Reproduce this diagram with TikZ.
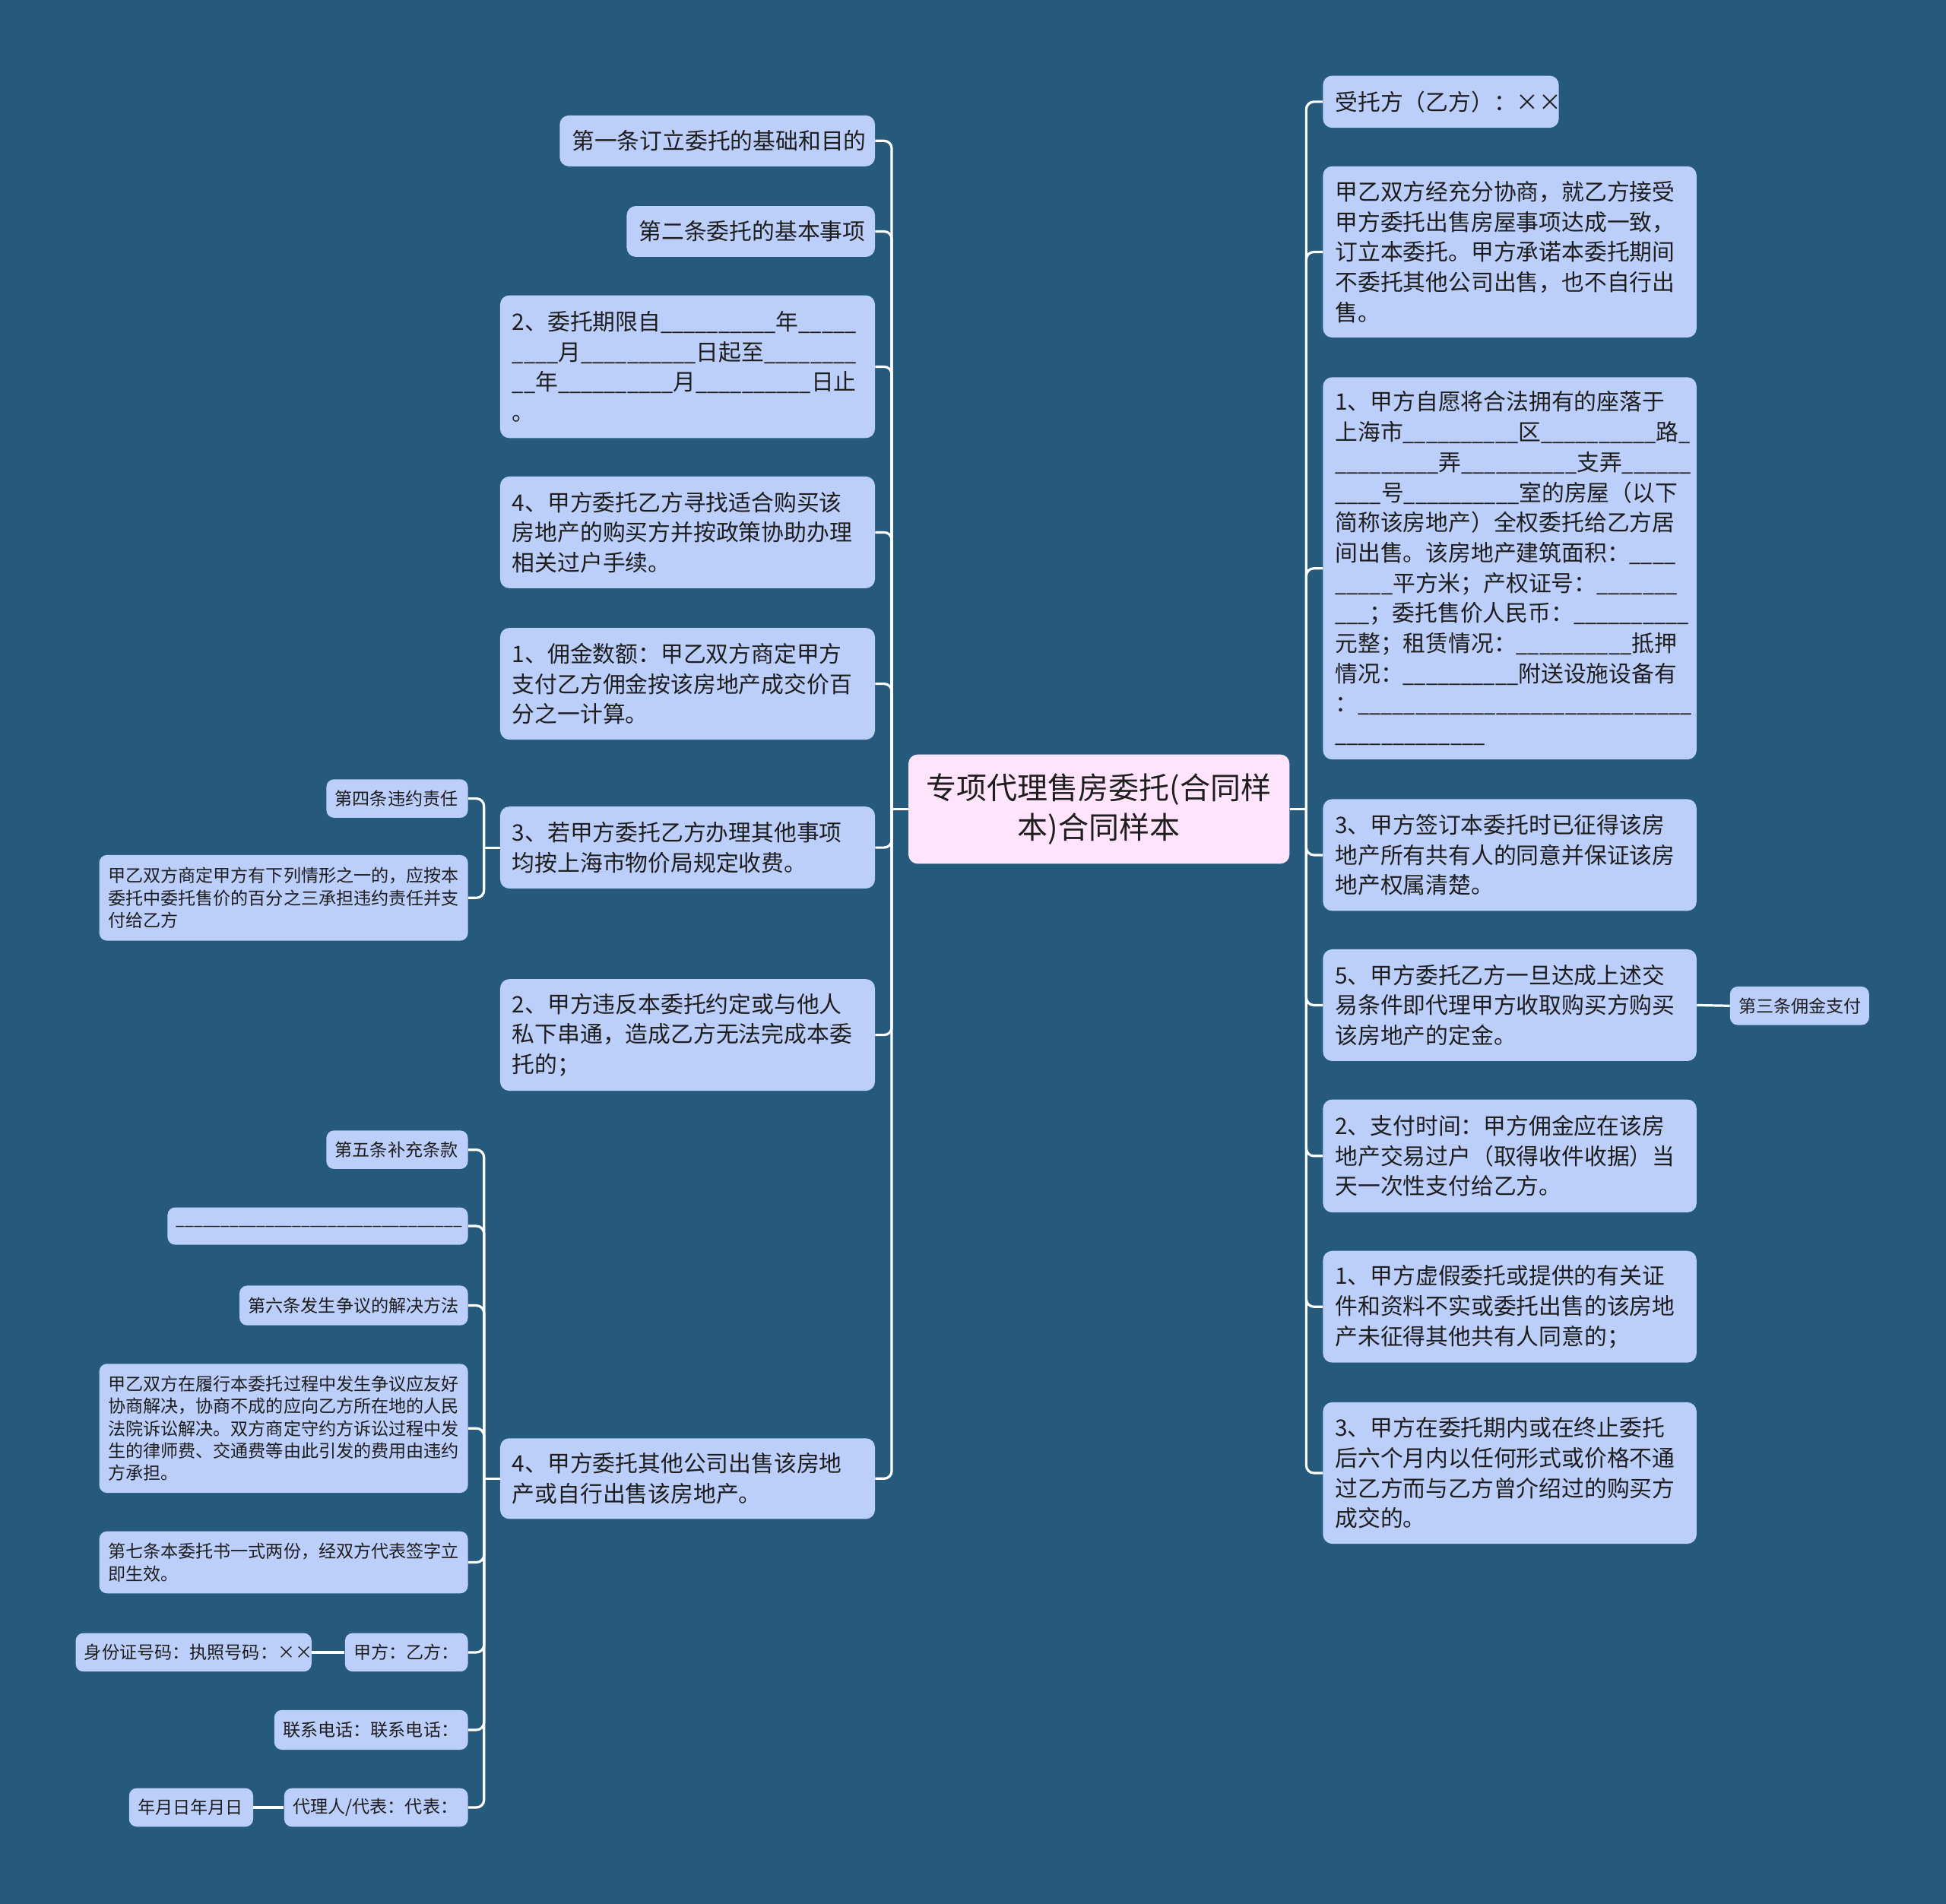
\documentclass[tikz,border=0pt]{standalone}
\usepackage{fontspec}
\usepackage{graphicx}
\setmainfont{Noto Sans CJK SC}
\definecolor{bgc}{HTML}{255A7D}
\definecolor{nodefill}{HTML}{BCCFFA}
\definecolor{rootfill}{HTML}{FFE4FB}
\definecolor{txt}{HTML}{1E1E1E}
\ExplSyntaxOn
\NewDocumentCommand\ublankraw{m}{\prg_replicate:nn{#1}{\textunderscore}}
\ExplSyntaxOff
\newcommand\ublank[1]{\scalebox{0.91}[1]{\ublankraw{#1}}}
\newcommand\nbox[8]{%
  \pgfmathsetmacro\nbw{(#6-#4)*0.8163}%
  \pgfmathsetmacro\nbh{(#7-#5)*0.8163}%
  \pgfmathsetmacro\ntw{\nbw-2*#3}%
  \node[#2, minimum width=\nbw pt, minimum height=\nbh pt, text width=\ntw pt, inner xsep=#3pt] (#1) at ({(#4+#6)/2},{(#5+#7)/2}) {#8};%
}
\tikzset{
  mainn/.style={fill=nodefill, rounded corners=6pt, text=txt, align=left, inner ysep=0pt,
    font=\fontsize{14.9pt}{19.85pt}\selectfont},
  smalln/.style={fill=nodefill, rounded corners=5pt, text=txt, align=left, inner ysep=0pt,
    font=\fontsize{11.55pt}{14.7pt}\selectfont},
  rootn/.style={fill=rootfill, rounded corners=6pt, text=txt, align=center, inner ysep=0pt,
    font=\fontsize{20pt}{26pt}\selectfont},
  conn/.style={draw=white, line width=1.6pt},
  rconn/.style={draw=white, line width=1.6pt, rounded corners=5pt},
}
\begin{document}
\begin{tikzpicture}[x=0.8163pt, y=-0.8163pt]
\fill[bgc] (0,0) rectangle (1568,1534.3);
\useasboundingbox (0,0) rectangle (1568,1534.3);

% root
\nbox{root}{rootn}{8}{732}{608}{1039}{696}{专项代理售房委托(合同样\\本)合同样本}

% left main nodes
\nbox{L1}{mainn}{8}{451}{93}{705}{134}{第一条订立委托的基础和目的}
\nbox{L2}{mainn}{8}{505}{166}{705}{207}{第二条委托的基本事项}
\nbox{L3}{mainn}{8}{403}{238}{705}{353}{2、委托期限自\ublank{10}年\ublank{5}\\\ublank{4}月\ublank{10}日起至\ublank{8}\\\ublank{2}年\ublank{10}月\ublank{10}日止\\。}
\nbox{L4}{mainn}{8}{403}{384}{705}{474}{4、甲方委托乙方寻找适合购买该\\房地产的购买方并按政策协助办理\\相关过户手续。}
\nbox{L5}{mainn}{8}{403}{506}{705}{596}{1、佣金数额：甲乙双方商定甲方\\支付乙方佣金按该房地产成交价百\\分之一计算。}
\nbox{L6}{mainn}{8}{403}{650}{705}{716}{3、若甲方委托乙方办理其他事项\\均按上海市物价局规定收费。}
\nbox{L7}{mainn}{8}{403}{789}{705}{879}{2、甲方违反本委托约定或与他人\\私下串通，造成乙方无法完成本委\\托的；}
\nbox{L8}{mainn}{8}{403}{1159}{705}{1224}{4、甲方委托其他公司出售该房地\\产或自行出售该房地产。}

% left small nodes
\nbox{S1}{smalln}{5.7}{263}{628}{377}{659}{第四条违约责任}
\nbox{S2}{smalln}{5.7}{80}{689}{377}{758}{甲乙双方商定甲方有下列情形之一的，应按本\\委托中委托售价的百分之三承担违约责任并支\\付给乙方}
\nbox{S3}{smalln}{5.7}{263}{911}{377}{942}{第五条补充条款}
\nbox{S4}{smalln}{5.7}{135}{973}{377}{1003}{\ublank{32}}
\nbox{S5}{smalln}{5.7}{193}{1036}{377}{1068}{第六条发生争议的解决方法}
\nbox{S6}{smalln}{5.7}{80}{1099}{377}{1203}{甲乙双方在履行本委托过程中发生争议应友好\\协商解决，协商不成的应向乙方所在地的人民\\法院诉讼解决。双方商定守约方诉讼过程中发\\生的律师费、交通费等由此引发的费用由违约\\方承担。}
\nbox{S7}{smalln}{5.7}{80}{1234}{377}{1284}{第七条本委托书一式两份，经双方代表签字立\\即生效。}
\nbox{S8}{smalln}{5.7}{278}{1316}{377}{1347}{甲方：乙方：}
\nbox{S8a}{smalln}{5.7}{61}{1316}{251}{1347}{身份证号码：执照号码：××}
\nbox{S9}{smalln}{5.7}{221}{1378}{377}{1410}{联系电话：联系电话：}
\nbox{S10}{smalln}{5.7}{229}{1441}{377}{1472}{代理人/代表：代表：}
\nbox{S10a}{smalln}{5.7}{104}{1441}{204}{1472}{年月日年月日}

% right main nodes
\nbox{R1}{mainn}{8}{1066}{61}{1256}{103}{受托方（乙方）：××}
\nbox{R2}{mainn}{8}{1066}{134}{1367}{272}{甲乙双方经充分协商，就乙方接受\\甲方委托出售房屋事项达成一致，\\订立本委托。甲方承诺本委托期间\\不委托其他公司出售，也不自行出\\售。}
\nbox{R3}{mainn}{8}{1066}{304}{1367}{612}{1、甲方自愿将合法拥有的座落于\\上海市\ublank{10}区\ublank{10}路\ublank{1}\\\ublank{9}弄\ublank{10}支弄\ublank{6}\\\ublank{4}号\ublank{10}室的房屋（以下\\简称该房地产）全权委托给乙方居\\间出售。该房地产建筑面积：\ublank{4}\\\ublank{5}平方米；产权证号：\ublank{7}\\\ublank{3}；委托售价人民币：\ublank{10}\\元整；租赁情况：\ublank{10}抵押\\情况：\ublank{10}附送设施设备有\\：\ublank{29}\\\ublank{13}}
\nbox{R4}{mainn}{8}{1066}{644}{1367}{734}{3、甲方签订本委托时已征得该房\\地产所有共有人的同意并保证该房\\地产权属清楚。}
\nbox{R5}{mainn}{8}{1066}{765}{1367}{855}{5、甲方委托乙方一旦达成上述交\\易条件即代理甲方收取购买方购买\\该房地产的定金。}
\nbox{R5c}{smalln}{5.7}{1394}{795}{1506}{826}{第三条佣金支付}
\nbox{R6}{mainn}{8}{1066}{886}{1367}{977}{2、支付时间：甲方佣金应在该房\\地产交易过户（取得收件收据）当\\天一次性支付给乙方。}
\nbox{R7}{mainn}{8}{1066}{1008}{1367}{1098}{1、甲方虚假委托或提供的有关证\\件和资料不实或委托出售的该房地\\产未征得其他共有人同意的；}
\nbox{R8}{mainn}{8}{1066}{1130}{1367}{1244}{3、甲方在委托期内或在终止委托\\后六个月内以任何形式或价格不通\\过乙方而与乙方曾介绍过的购买方\\成交的。}

% junctions
\coordinate (lj) at (718.5,652);
\coordinate (rj) at (1052.5,652);
\coordinate (j6) at (390,683);
\coordinate (j8) at (390,1191.5);

% connectors left
\draw[conn] (root.west) -- (lj);
\foreach \n in {L1,L2,L3,L4,L5,L6,L7,L8} \draw[rconn] (lj) |- (\n.east);
\draw[conn] (L6.west) -- (j6);
\foreach \n in {S1,S2} \draw[rconn] (j6) |- (\n.east);
\draw[conn] (L8.west) -- (j8);
\foreach \n in {S3,S4,S5,S6,S7,S8,S9,S10} \draw[rconn] (j8) |- (\n.east);
\draw[conn] (S8.west) -- (S8a.east);
\draw[conn] (S10.west) -- (S10a.east);

% connectors right
\draw[conn] (root.east) -- (rj);
\foreach \n in {R1,R2,R3,R4,R5,R6,R7,R8} \draw[rconn] (rj) |- (\n.west);
\draw[conn] (R5.east) -- (R5c.west);
\end{tikzpicture}
\end{document}
